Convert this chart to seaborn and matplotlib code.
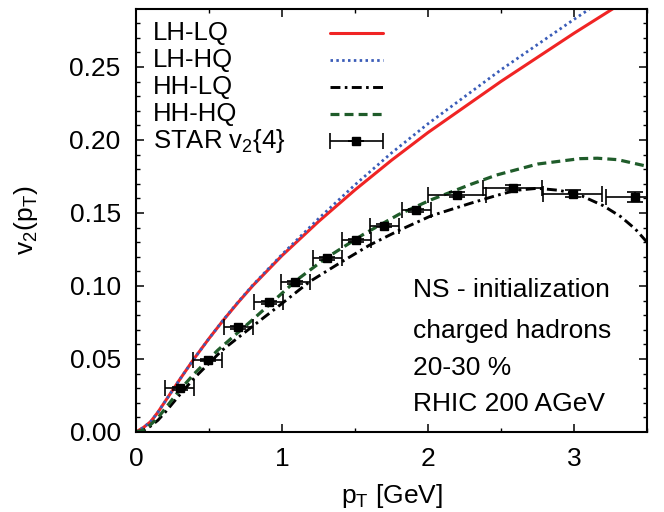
import matplotlib
matplotlib.use("Agg")
import matplotlib.pyplot as plt
import seaborn as sns
from matplotlib.ticker import MultipleLocator, FormatStrFormatter
from matplotlib.container import ErrorbarContainer
from matplotlib.legend_handler import HandlerErrorbar

# curves
pt_lh = [0, 0.05, 0.1, 0.15, 0.2, 0.25, 0.3, 0.4, 0.5, 0.6, 0.7, 0.8, 1.0, 1.25,
         1.5, 1.75, 2.0, 2.5, 3.0, 3.5]
v2_lhlq = [0, 0.003, 0.007, 0.0135, 0.021, 0.0285, 0.036, 0.0505, 0.064, 0.0768,
           0.0888, 0.1002, 0.1208, 0.1441, 0.1658, 0.1861, 0.2051, 0.2401, 0.2731, 0.3046]
v2_lhhq = [0, 0.003, 0.007, 0.0135, 0.021, 0.0285, 0.036, 0.0505, 0.064, 0.0770,
           0.0891, 0.1006, 0.1216, 0.1461, 0.1693, 0.1911, 0.2111, 0.2481, 0.2826, 0.3161]

pt_hhlq = [0, 0.05, 0.1, 0.15, 0.2, 0.3, 0.4, 0.59, 0.8, 1.0, 1.19, 1.4, 1.6, 1.8,
           2.02, 2.29, 2.47, 2.6, 2.75, 2.9, 3.04, 3.2, 3.32, 3.42, 3.5]
v2_hhlq = [0, 0.001, 0.004, 0.008, 0.0135, 0.0255, 0.037, 0.056, 0.0725, 0.088,
           0.103, 0.116, 0.128, 0.138, 0.148, 0.1566, 0.162, 0.1655, 0.1669, 0.1655,
           0.1623, 0.155, 0.1475, 0.139, 0.130]

pt_hhhq = [0, 0.05, 0.1, 0.15, 0.2, 0.3, 0.4, 0.49, 0.56, 0.8, 1.1, 1.3, 1.56, 1.8,
           2.02, 2.29, 2.47, 2.75, 3.04, 3.16, 3.3, 3.5]
v2_hhhq = [0, 0.0014, 0.005, 0.0097, 0.016, 0.0288, 0.040, 0.049, 0.056, 0.077,
           0.104, 0.119, 0.1355, 0.149, 0.159, 0.1695, 0.176, 0.1835, 0.1872, 0.1875,
           0.1865, 0.182]

# STAR v2{4} data
pt_star = [0.30, 0.49, 0.70, 0.91, 1.09, 1.31, 1.51, 1.70, 1.92, 2.20, 2.58, 2.99, 3.42]
v2_star = [0.0299, 0.0493, 0.0717, 0.0888, 0.1025, 0.119, 0.1313, 0.1413, 0.1518,
           0.1626, 0.1673, 0.1632, 0.1607]
pt_err = [0.1, 0.1, 0.1, 0.1, 0.1, 0.1, 0.1, 0.1, 0.1, 0.2, 0.2, 0.2, 0.2]
v2_err = [0.001, 0.001, 0.001, 0.001, 0.001, 0.001, 0.001, 0.001, 0.0012, 0.0015,
          0.0018, 0.0022, 0.0035]

labels = ["LH-LQ", "LH-HQ", "HH-LQ", "HH-HQ", "STAR v$_2${4}"]
info = ["NS - initialization", "charged hadrons", "20-30 %", "RHIC 200 AGeV"]

sns.set_theme(style="ticks")
plt.rcParams["font.family"] = ["Liberation Sans", "DejaVu Sans"]
plt.rcParams["mathtext.default"] = "regular"

fig = plt.figure(figsize=(6.64, 5.12), dpi=100)
ax = fig.add_axes([0.2048, 0.1563, 0.7696, 0.8261])

sns.lineplot(x=pt_lh, y=v2_lhlq, ax=ax, color="#f02424", lw=2.2)
l1 = ax.get_lines()[-1]
sns.lineplot(x=pt_lh, y=v2_lhhq, ax=ax, color="#3a5cb8", lw=2.0, linestyle=(0, (0.9, 1.2)))
l2 = ax.get_lines()[-1]
sns.lineplot(x=pt_hhlq, y=v2_hhlq, ax=ax, color="black", lw=2.1,
             linestyle=(0, (3.4, 1.5, 0.9, 1.5)))
l3 = ax.get_lines()[-1]
sns.lineplot(x=pt_hhhq, y=v2_hhhq, ax=ax, color="#1f5c2a", lw=2.3, linestyle=(0, (2.8, 1.6)))
l4 = ax.get_lines()[-1]
eb = ax.errorbar(pt_star, v2_star, xerr=pt_err, yerr=v2_err, fmt="s", color="black",
                 ms=6, elinewidth=1.2, capsize=5.5, capthick=1.2, zorder=5)

ax.set_xlim(0, 3.5)
ax.set_ylim(0, 0.2897)
ax.xaxis.set_major_locator(MultipleLocator(1))
ax.xaxis.set_minor_locator(MultipleLocator(0.5))
ax.yaxis.set_major_locator(MultipleLocator(0.05))
ax.yaxis.set_minor_locator(MultipleLocator(0.01))
ax.yaxis.set_major_formatter(FormatStrFormatter("%.2f"))
ax.tick_params(which="both", direction="in", top=True, right=True, colors="black",
               labelcolor="black")
ax.tick_params(which="major", length=6, width=1.1, labelsize=19, pad=11)
ax.tick_params(which="minor", length=3.2, width=1.0)
for s in ax.spines.values():
    s.set_linewidth(1.5)
    s.set_color("black")

ax.set_xlabel("p$_T$ [GeV]", fontsize=19, color="black")
ax.set_ylabel("v$_2$(p$_T$)", fontsize=19, color="black")
ax.xaxis.set_label_coords(0.5, -0.118)
ax.yaxis.set_label_coords(-0.188, 0.5)

# legend: samples on the right, names on the left
leg = ax.legend([l1, l2, l3, l4, eb], [""] * 5, loc="upper left",
                bbox_to_anchor=(0.3796, 0.968), frameon=False, fontsize=18.5,
                markerfirst=False, handlelength=2.06, handletextpad=0,
                borderpad=0, borderaxespad=0, labelspacing=0.12,
                handler_map={ErrorbarContainer: HandlerErrorbar(xerr_size=1.03, yerr_size=0)})

fig.canvas.draw()
inv = ax.transAxes.inverted()
ys = []
for ln in leg.get_lines()[:4]:
    bb = ln.get_window_extent()
    ys.append(inv.transform((0, (bb.y0 + bb.y1) / 2))[1])
ys.append(ys[-1] + (ys[-1] - ys[-2]))
for lab, y in zip(labels, ys):
    ax.text(0.034, y, lab, transform=ax.transAxes, fontsize=18.5, va="center",
            ha="left", color="black")

for txt, y in zip(info, [0.319, 0.222, 0.135, 0.0496]):
    ax.text(0.542, y, txt, transform=ax.transAxes, fontsize=19, va="baseline",
            ha="left", color="black")

fig.savefig("out.png", dpi=100)
